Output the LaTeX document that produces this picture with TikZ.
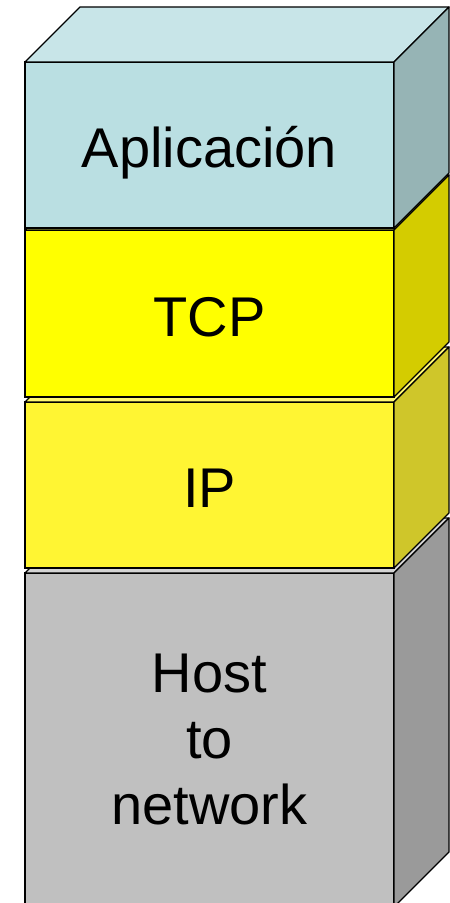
\documentclass[tikz,border=0pt]{standalone}
\usepackage{fontspec}
\setmainfont{Liberation Sans}
\definecolor{appfront}{HTML}{BADFE2}
\definecolor{apptop}{HTML}{C8E5E8}
\definecolor{appside}{HTML}{96B4B5}
\definecolor{tcpfront}{HTML}{FFFF00}
\definecolor{tcptop}{HTML}{FFFF66}
\definecolor{tcpside}{HTML}{D4CC00}
\definecolor{ipfront}{HTML}{FFF533}
\definecolor{iptop}{HTML}{FFF870}
\definecolor{ipside}{HTML}{CFC62A}
\definecolor{hostfront}{HTML}{C0C0C0}
\definecolor{hosttop}{HTML}{D4D4D4}
\definecolor{hostside}{HTML}{9A9A9A}
\begin{document}
\begin{tikzpicture}[x=1pt, y=1pt,
  layer/.style = {draw, line width=1.2pt, outer sep=0pt, inner sep=0pt,
    minimum width=369pt, align=center, font=\fontsize{56}{66}\selectfont},
  oneline/.style = {text height=46pt, text depth=0pt},
  face/.style = {draw, line width=1.2pt, line join=round}]
\useasboundingbox (0,0) rectangle (450,903);

% bottom to top, each layer hides the top of the one below
\node[layer, fill=hostfront, minimum height=334pt] (host) at (209.5,163) {Host\\to\\network};
\draw[face, fill=hosttop] (host.north west) -- ++(55,55) -- ([shift={(55,55)}]host.north east) -- (host.north east) -- cycle;
\draw[face, fill=hostside] (host.north east) -- ++(55,55) -- ([shift={(55,55)}]host.south east) -- (host.south east) -- cycle;

\node[layer, oneline, fill=ipfront, minimum height=166pt] (ip) at (209.5,418) {IP};
\draw[face, fill=iptop] (ip.north west) -- ++(55,55) -- ([shift={(55,55)}]ip.north east) -- (ip.north east) -- cycle;
\draw[face, fill=ipside] (ip.north east) -- ++(55,55) -- ([shift={(55,55)}]ip.south east) -- (ip.south east) -- cycle;

\node[layer, oneline, fill=tcpfront, minimum height=167pt] (tcp) at (209.5,589.5) {TCP};
\draw[face, fill=tcptop] (tcp.north west) -- ++(55,55) -- ([shift={(55,55)}]tcp.north east) -- (tcp.north east) -- cycle;
\draw[face, fill=tcpside] (tcp.north east) -- ++(55,55) -- ([shift={(55,55)}]tcp.south east) -- (tcp.south east) -- cycle;

\node[layer, oneline, fill=appfront, minimum height=166pt] (app) at (209.5,758) {Aplicación};
\draw[face, fill=apptop] (app.north west) -- ++(55,55) -- ([shift={(55,55)}]app.north east) -- (app.north east) -- cycle;
\draw[face, fill=appside] (app.north east) -- ++(55,55) -- ([shift={(55,55)}]app.south east) -- (app.south east) -- cycle;
\end{tikzpicture}
\end{document}
